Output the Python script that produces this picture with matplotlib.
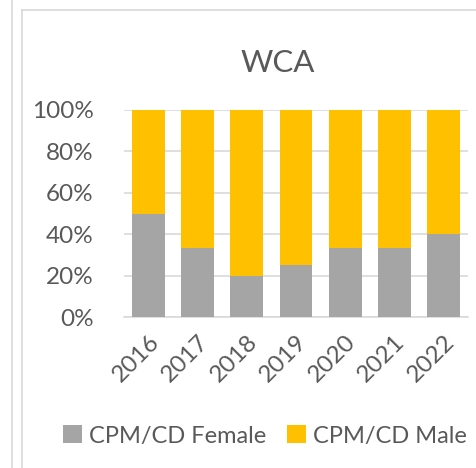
import numpy as np
import matplotlib.pyplot as plt
from matplotlib.lines import Line2D
from matplotlib.ticker import PercentFormatter

years = ["2016", "2017", "2018", "2019", "2020", "2021", "2022"]
female = [50, 33.3, 20, 25, 33.3, 33.3, 40]
male = [50, 66.7, 80, 75, 66.7, 66.7, 60]
labels = ["CPM/CD Female", "CPM/CD Male"]
colors = ["#A5A5A5", "#FFC000"]

plt.rcParams['font.family'] = ['Lato', 'DejaVu Sans']
txt = "#595959"

W, H = 477, 468
fig = plt.figure(figsize=(W / 100, H / 100), dpi=100)

# outer frame lines of the surrounding document
fig.add_artist(Line2D([12 / W, 12 / W], [0, 1], color="#D9D9D9", lw=1.2))
fig.add_artist(Line2D([22 / W, 22 / W], [0, 1 - 10 / H], color="#D9D9D9", lw=1.2))
fig.add_artist(Line2D([22 / W, 1], [1 - 10 / H, 1 - 10 / H], color="#D9D9D9", lw=1.2))

ax = fig.add_axes([124 / W, 1 - 317 / H, 344 / W, 207 / H])
x = np.arange(len(years))
ax.bar(x, female, width=0.67, color=colors[0], label=labels[0], zorder=3)
ax.bar(x, male, width=0.67, bottom=female, color=colors[1], label=labels[1], zorder=3)

ax.set_xlim(-0.5, len(years) - 0.5)
ax.set_ylim(0, 100)
ax.set_yticks(np.arange(0, 101, 20))
ax.yaxis.set_major_formatter(PercentFormatter(decimals=0))
ax.grid(axis="y", color="#D9D9D9", lw=1.2, zorder=0)
for s in ["top", "right", "left"]:
    ax.spines[s].set_visible(False)
ax.spines["bottom"].set_color("#D9D9D9")
ax.spines["bottom"].set_linewidth(1.2)
ax.tick_params(length=0, labelsize=17.5, colors=txt)
ax.tick_params(axis="y", pad=22)
ax.set_xticks(x)
ax.set_xticklabels(years, rotation=45, ha="right", va="top", rotation_mode="anchor")
ax.tick_params(axis="x", pad=10)

fig.text(278 / W, 1 - 63 / H, "WCA", ha="center", va="center", fontsize=22.5, color=txt)

fig.legend(loc="center", bbox_to_anchor=(265 / W, 1 - 436 / H), ncol=2, frameon=False,
           fontsize=17, labelcolor=txt, handlelength=0.8, handleheight=0.8,
           handletextpad=0.3, columnspacing=0.9)

fig.savefig("out.png", dpi=100)
